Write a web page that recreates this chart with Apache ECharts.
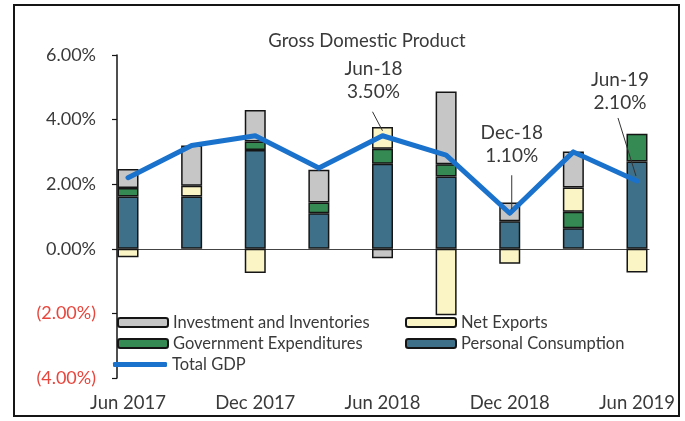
<!DOCTYPE html>
<html>
<head>
<meta charset="utf-8">
<script src="https://cdn.jsdelivr.net/npm/echarts@6/dist/echarts.min.js"></script>
<style>
  html, body { margin: 0; padding: 0; background: #ffffff; }
  #chart { width: 685px; height: 421px; }
</style>
</head>
<body>
<div id="chart"></div>
<script>
// Quarterly contributions to real GDP growth (percentage points)
const categories = ['Jun 2017', 'Sep 2017', 'Dec 2017', 'Mar 2018', 'Jun 2018', 'Sep 2018', 'Dec 2018', 'Mar 2019', 'Jun 2019'];
const personalConsumption = [1.62, 1.62, 3.06, 1.10, 2.63, 2.24, 0.85, 0.64, 2.70];
const governmentExpenditures = [0.26, null, 0.26, 0.33, 0.47, 0.38, null, 0.51, 0.86];
const netExports = [-0.26, 0.33, -0.75, null, 0.67, -2.06, -0.46, 0.75, -0.73];
const investmentInventories = [0.59, 1.25, 0.98, 1.02, -0.29, 2.25, 0.58, 1.11, null];
const totalGdp = [2.2, 3.2, 3.5, 2.5, 3.5, 2.9, 1.1, 3.0, 2.1];
const yTicks = { min: -4, max: 6, step: 2 };
const calloutIndices = [4, 6, 8];

const FONT = 'Lato, "Open Sans", sans-serif';
const TEXT = '#3a3a3a';
const EDGE = '#151515';

// "Jun 2018" -> "Jun-18"
function shortLabel(cat) {
  const parts = cat.split(' ');
  return parts[0] + '-' + parts[1].slice(2);
}
function pct(v) { return v.toFixed(2) + '%'; }

// Callout placement relative to its point on the GDP line (pixels):
// text centre offset and the two ends of the leader line
const calloutStyle = {
  4: { tx: -9, ty: -55, lead: [-10, -24, 0, -5] },
  6: { tx: 2, ty: -69, lead: [2, -38, 2, -4] },
  8: { tx: -17, ty: -90, lead: [-19, -63, -1, -5] }
};

function barSeries(name, data, color) {
  return {
    name: name,
    type: 'bar',
    stack: 'gdp',
    xAxisIndex: 0,
    yAxisIndex: 0,
    barWidth: 21,
    data: data,
    itemStyle: { color: color, borderColor: EDGE, borderWidth: 1.5 },
    emphasis: { disabled: true }
  };
}

const legendBase = {
  orient: 'horizontal',
  itemWidth: 50,
  itemHeight: 9,
  selectedMode: false,
  padding: 0,
  textStyle: { fontFamily: FONT, fontSize: 16.5, color: TEXT }
};

const chart = echarts.init(document.getElementById('chart'), null, { renderer: 'canvas' });
chart.setOption({
  animation: false,
  textStyle: { fontFamily: FONT },
  title: {
    text: 'Gross Domestic Product',
    left: 362,
    top: 27,
    textAlign: 'center',
    textStyle: { fontFamily: FONT, fontSize: 18.5, fontWeight: 'normal', color: TEXT }
  },
  graphic: [{
    type: 'rect',
    shape: { x: 14, y: 5, width: 665, height: 411 },
    style: { fill: 'none', stroke: EDGE, lineWidth: 2 },
    z: -1
  }],
  legend: [
    Object.assign({}, legendBase, { data: ['Investment and Inventories'], left: 117, top: 314 }),
    Object.assign({}, legendBase, { data: ['Net Exports'], left: 405, top: 314 }),
    Object.assign({}, legendBase, { data: ['Government Expenditures'], left: 117, top: 335 }),
    Object.assign({}, legendBase, { data: ['Personal Consumption'], left: 405, top: 335 }),
    Object.assign({}, legendBase, { data: ['Total GDP'], left: 113, top: 356, icon: 'roundRect', itemWidth: 54, itemHeight: 5 })
  ],
  grid: [
    // bars and line: one category slot per quarter
    { left: 96.2, right: 16.2, top: 55, bottom: 43 },
    // visible frame: y axis and zero line spanning the outer bar edges
    { left: 117, right: 36, top: 55, bottom: 43 }
  ],
  xAxis: [
    {
      type: 'category',
      gridIndex: 0,
      data: categories,
      boundaryGap: true,
      axisLine: { show: false, onZero: false },
      axisTick: { show: false },
      axisLabel: { interval: 1, margin: 16, fontFamily: FONT, fontSize: 18.5, color: TEXT }
    },
    {
      type: 'value',
      gridIndex: 1,
      min: 0,
      max: 1,
      axisLine: { show: true, onZero: true, lineStyle: { color: '#444', width: 1.2 } },
      axisTick: { show: false },
      axisLabel: { show: false },
      splitLine: { show: false }
    }
  ],
  yAxis: [
    {
      type: 'value',
      gridIndex: 0,
      min: yTicks.min,
      max: yTicks.max,
      interval: yTicks.step,
      show: false
    },
    {
      type: 'value',
      gridIndex: 1,
      min: yTicks.min,
      max: yTicks.max,
      interval: yTicks.step,
      axisLine: { show: true, lineStyle: { color: EDGE, width: 1.5 } },
      axisTick: { show: true, length: 5, lineStyle: { color: EDGE, width: 1.2 } },
      splitLine: { show: false },
      axisLabel: {
        margin: 21,
        formatter: function (v) {
          return v < 0 ? '{neg|(' + pct(-v) + ')}' : '{pos|' + pct(v) + '}';
        },
        rich: {
          pos: { fontFamily: FONT, fontSize: 18, color: TEXT },
          neg: { fontFamily: FONT, fontSize: 18, color: '#e8453c' }
        }
      }
    }
  ],
  series: [
    barSeries('Personal Consumption', personalConsumption, '#3f7089'),
    barSeries('Government Expenditures', governmentExpenditures, '#348a52'),
    barSeries('Net Exports', netExports, '#fbf5c6'),
    barSeries('Investment and Inventories', investmentInventories, '#c6c6c6'),
    {
      name: 'Total GDP',
      type: 'line',
      xAxisIndex: 0,
      yAxisIndex: 0,
      data: totalGdp,
      z: 5,
      symbol: 'none',
      itemStyle: { color: '#1a72cc' },
      lineStyle: { color: '#1a72cc', width: 5, cap: 'round', join: 'round' },
      emphasis: { disabled: true }
    },
    {
      // value callouts with leader lines, anchored on the GDP line
      type: 'custom',
      xAxisIndex: 0,
      yAxisIndex: 0,
      z: 6,
      silent: true,
      data: calloutIndices.map(function (i) { return [i, totalGdp[i]]; }),
      renderItem: function (params, api) {
        const idx = api.value(0);
        const val = api.value(1);
        const p = api.coord([idx, val]);
        const s = calloutStyle[idx];
        return {
          type: 'group',
          children: [
            {
              type: 'line',
              shape: { x1: p[0] + s.lead[0], y1: p[1] + s.lead[1], x2: p[0] + s.lead[2], y2: p[1] + s.lead[3] },
              style: { stroke: '#333', lineWidth: 1 }
            },
            {
              type: 'text',
              x: p[0] + s.tx,
              y: p[1] + s.ty,
              style: {
                text: shortLabel(categories[idx]) + '\n' + pct(val),
                fill: TEXT,
                font: '19px ' + FONT,
                lineHeight: 23,
                align: 'center',
                verticalAlign: 'middle'
              }
            }
          ]
        };
      }
    }
  ]
});
</script>
</body>
</html>
